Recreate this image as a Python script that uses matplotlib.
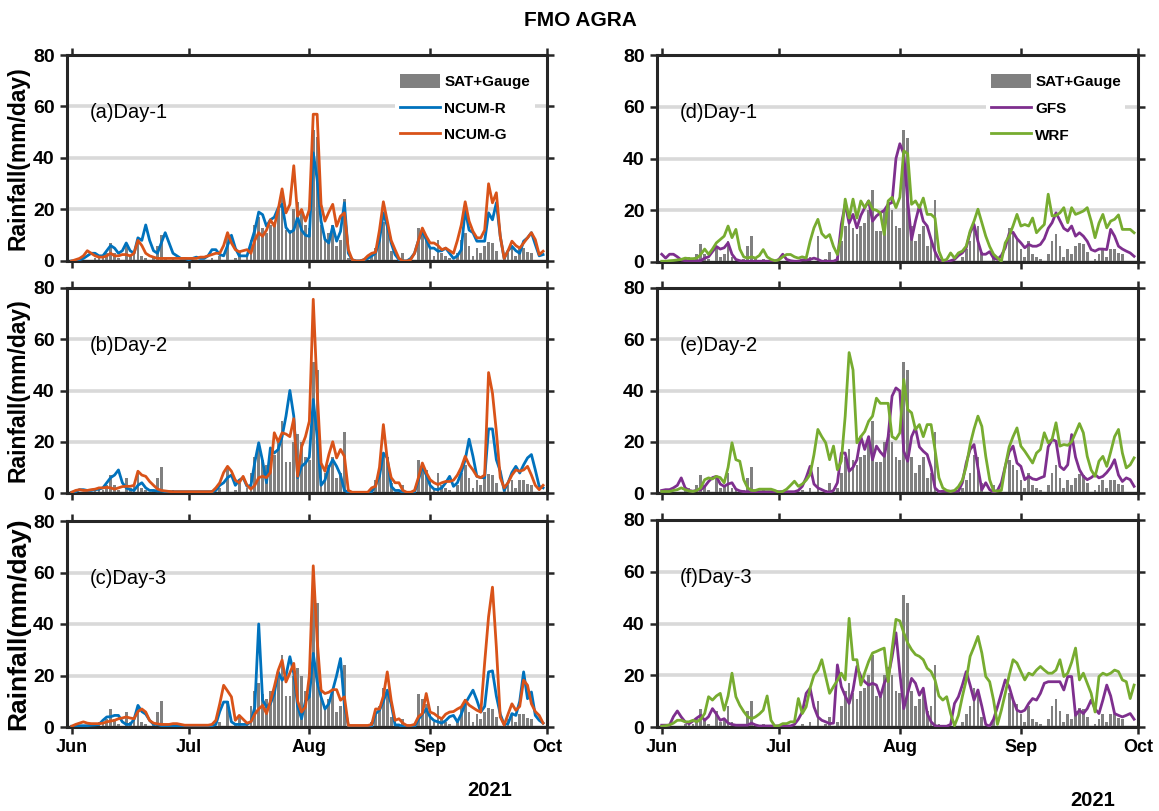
import matplotlib
matplotlib.use("Agg")
import matplotlib.pyplot as plt
import pandas as pd

# ---------------- data ----------------
dates = pd.date_range("2021-06-01", "2021-09-30", freq="D")
month_ticks = pd.to_datetime(["2021-06-01", "2021-07-01", "2021-08-01", "2021-09-01", "2021-10-01"])
month_labels = ["Jun", "Jul", "Aug", "Sep", "Oct"]
y_ticks = [0, 20, 40, 60, 80]

# observed daily rainfall (SAT+Gauge), mm/day
obs = [0, 0, 0, 0, 0, 0, 1, 2, 1, 3,
       7, 3, 1, 0, 6, 2, 3, 8, 2, 1,
       0, 1, 6, 10, 1, 0, 1, 0, 0, 0,
       0, 0, 0, 0, 0, 0, 1, 0, 2, 0,
       10, 0, 1, 4, 0, 2, 8, 14, 17, 13,
       11, 14, 15, 20, 28, 12, 12, 20, 23, 20,
       14, 13, 51, 48, 14, 8, 11, 14, 6, 8,
       24, 1, 0, 0, 0, 0, 0, 2, 5, 8,
       15, 14, 4, 0, 0, 3, 0, 0, 0, 13,
       11, 9, 5, 2, 8, 3, 2, 1, 0, 3,
       8, 11, 6, 2, 5, 3, 6, 7.5, 7, 4,
       0, 1, 3, 5, 2, 5, 5, 3.5, 3, 0, 0, 0]

ncum_r_day1 = [0, 0, 0.5, 1, 2, 3, 3, 2, 2, 4,
               6, 5, 3, 4, 7, 4, 3, 9, 8, 14,
               8, 4, 3, 7, 11, 7, 3, 2, 1, 1,
               0.5, 1, 1.5, 1, 1, 2, 4.4, 4.4, 2.5, 2,
               6, 10, 5, 2, 2, 2, 7, 12, 19, 18,
               13.5, 16, 17, 20.6, 22, 13, 11, 12, 17, 12,
               10, 9.6, 42, 31.7, 15.5, 8.4, 7, 13.5, 7.7, 11.5,
               22.6, 3, 0.5, 0, 0, 0.5, 1, 2, 3, 8,
               18.7, 13.5, 7, 2.5, 0.5, 0, 0, 1, 3, 8,
               11.5, 8.3, 5, 5, 3.8, 4, 5, 3, 1, 2,
               4.4, 20, 12, 11, 7.7, 7.7, 7.7, 18.7, 16, 22.6,
               9.6, 1, 4, 5.7, 4, 3, 7.7, 9, 11, 6.4, 2, 2.5]
ncum_g_day1 = [0, 0.5, 1, 2, 4, 3, 2, 1.5, 1.5, 2,
               3, 2, 2, 2.5, 2.5, 2, 3, 8, 6, 3,
               2, 1.5, 1, 1, 1, 1, 1, 1, 1, 1,
               1, 1, 1, 1.5, 1.5, 2, 2.5, 3, 3, 6,
               11, 7, 4.4, 3.6, 4, 4.4, 3, 8, 11, 9.6,
               12, 16, 13.5, 20, 28, 18.7, 22, 37, 17.4, 20,
               15.5, 20, 57, 57, 22, 15.5, 19, 22, 13.5, 17.4,
               18.7, 4.4, 0.5, 0, 0, 0.5, 2, 3, 3.4, 12,
               23, 15.5, 8, 4.4, 1, 0, 0, 0.5, 3, 8,
               12.8, 9.6, 7, 7, 6, 4.4, 5, 4, 3, 8,
               14, 23, 15.5, 11.5, 9, 9, 12, 30, 22.6, 26.5,
               9.6, 1, 4, 7.7, 6, 5, 7, 9, 11, 8.3, 2.5, 3.8]

ncum_r_day2 = [0.3, 0.5, 1.3, 1.3, 1, 1, 1.3, 1.5, 2, 4,
               6, 7, 9, 4, 2, 1.3, 1, 3, 4, 2,
               1, 1, 0.8, 0.8, 0.5, 0.5, 0.5, 0.5, 0.5, 0.5,
               0.5, 0.5, 0.5, 0.5, 0.5, 0.5, 0.5, 1, 3, 4,
               6, 7, 3, 5, 6, 2.6, 3, 12, 19.6, 12.4,
               4, 17.6, 15.6, 17, 22, 30, 40, 30, 6, 10.4,
               11.7, 14, 36.5, 22, 3, 5, 10, 13, 10.4, 7,
               1, 0.3, 0, 0, 0, 0, 0, 0.5, 3, 6.5,
               15.6, 13.7, 2.6, 1, 1, 0.3, 0, 0, 0.3, 5,
               10.4, 7, 3, 1.5, 1.3, 2, 4, 6.5, 2.6, 4,
               8, 13, 21, 14.3, 6.5, 6, 6, 25, 25, 13,
               8.5, 1, 4, 8, 10.4, 7.8, 11, 13.7, 15, 9, 2.6, 2]
ncum_g_day2 = [0.3, 1, 1.3, 1, 1, 1.3, 1.5, 2, 2, 2.2,
               2, 1.5, 2, 2.5, 2.6, 2.6, 3, 8.5, 7, 6.5,
               4.5, 3, 1.6, 1, 0.8, 0.6, 0.5, 0.5, 0.5, 0.5,
               0.5, 0.5, 0.5, 0.5, 0.5, 0.5, 0.5, 2, 4, 8,
               10.4, 8.5, 5, 4, 6.5, 3, 1.5, 3, 6, 6.5,
               6, 8, 23.5, 20, 23.5, 23, 22, 29, 6.5, 18,
               22, 28, 75.6, 40, 11.7, 8.5, 15, 20, 13.7, 17,
               14.3, 1, 0.3, 0.3, 0.3, 0.3, 0.3, 2, 2.6, 10,
               26.7, 13, 6, 4, 4, 1, 0.3, 0.3, 1, 6,
               11.7, 8, 5.2, 4, 3.3, 4, 4.5, 4.5, 5, 7,
               10, 14.3, 11, 9, 6.5, 6, 7, 47, 39, 24,
               6, 2, 4, 7, 9, 8.5, 9, 10.4, 7, 3, 1.3, 3]

ncum_r_day3 = [0.3, 0.3, 0.5, 0.5, 0.5, 0.7, 0.8, 1, 2.6, 3.9,
               4, 4.5, 4.5, 2, 1, 1, 3, 8.4, 6, 5,
               2.6, 1, 1, 0.5, 0.5, 0.5, 0.5, 0.5, 0.5, 0.5,
               0.5, 0.5, 0.5, 0.5, 0.5, 0.5, 0.5, 1, 6, 9.7,
               9.7, 2, 1, 1, 1, 1, 2, 7.8, 40, 10.4,
               7.8, 9, 13, 21.4, 18.2, 20, 27.3, 20.8, 8, 3.2,
               10, 11.7, 28.6, 17.5, 11.7, 7, 9, 14.3, 20, 26.6,
               8.4, 0.5, 0.3, 0.3, 0.3, 0.3, 0.3, 0.3, 5.2, 6.5,
               10, 14.3, 9, 0.8, 0.8, 0.1, 0.1, 0.1, 0.1, 3,
               5, 7, 3.9, 2.5, 2, 1.5, 2.5, 4, 4.5, 2,
               5, 9, 11.7, 14.3, 10.4, 5.8, 8, 21.4, 21.8, 12,
               5, 1, 1.3, 5.2, 4.5, 10, 21.4, 11, 13.6, 4.5, 2.6, 1.5]
ncum_g_day3 = [0.3, 1, 1.5, 2, 1.5, 1.3, 1.3, 1.3, 1.5, 2,
               2.3, 2.6, 3.2, 3.5, 3.9, 3.5, 3.2, 6, 7, 5.8,
               2.5, 1.5, 1.2, 1, 1, 1, 1.3, 1.3, 1, 0.7,
               0.7, 0.7, 0.7, 0.7, 0.7, 0.7, 1, 2.6, 9, 16.2,
               14, 11.7, 2.6, 4.5, 3, 1.5, 2, 5, 7, 8.4,
               5.2, 10, 15.6, 22, 26, 17.5, 21, 24.7, 10, 5.8,
               7.8, 20, 62.6, 33.8, 14.3, 13, 13.5, 14.5, 14.5, 10.4,
               11.7, 0.6, 0.6, 0.6, 0.6, 0.6, 0.6, 1, 7, 7,
               12, 21.4, 10.4, 2.6, 3.2, 1.5, 0.6, 0.6, 1, 4,
               5.2, 13, 5.8, 5.2, 4, 3.2, 5, 5.8, 6, 7,
               7.8, 10.4, 8.5, 7.5, 6.5, 5.8, 25, 42.8, 54.3, 31,
               3.9, 0.8, 5, 9, 6.5, 8, 18.2, 16.2, 9, 6, 4.5, 1.5]

gfs_day1 = [3, 1.5, 3, 3, 2, 0.8, 0.5, 0.5, 0.5, 0.5,
            0.5, 1.5, 2, 4, 6, 5, 5.5, 7.4, 3, 1,
            0.5, 0.3, 0.3, 0.3, 0.3, 0.3, 0.3, 0.3, 0.3, 0.3,
            1, 3, 1, 0.5, 0.3, 0.3, 0.8, 0.8, 1, 1.5,
            1, 0.3, 0.3, 0.3, 0.3, 1, 14.5, 22.3, 15, 18.4,
            13.2, 18, 21, 23.6, 15.8, 17.8, 19, 20, 22.3, 23,
            40, 45.7, 41.8, 23.6, 8.7, 15.8, 21.7, 15.8, 13.9, 8.7,
            4, 1, 0.3, 0, 0.5, 1, 2.5, 3.5, 5.5, 11.3,
            14.5, 8, 3, 3, 4, 1.5, 1, 2.5, 5.5, 11,
            11.5, 9, 7.4, 5.5, 6.8, 6.1, 6.1, 6.8, 9, 13,
            15.2, 19, 16, 13, 12, 13.9, 10, 11.3, 10, 8,
            4.8, 4.2, 5, 5, 4.8, 12.6, 10, 6.1, 5, 4.2, 3.5, 2.2]
wrf_day1 = [0.3, 0.3, 0.5, 0.6, 0.8, 1, 1.5, 1.3, 1.3, 1.5,
            2.9, 5, 3, 5, 7.4, 8.7, 10, 13.9, 9.4, 12.6,
            5, 2, 1.5, 2, 1.5, 2.5, 4.8, 2, 1, 0.5,
            0.8, 2, 2.9, 2.9, 2, 1.5, 2, 1.5, 8, 13.2,
            16.5, 11, 9.4, 10.6, 6, 2.9, 10, 24.3, 17, 24.3,
            17, 23.6, 21, 23.6, 20.4, 20, 19, 10.6, 23.6, 25,
            21, 25, 43, 41.8, 22.3, 23.6, 21, 24.7, 18.4, 18.4,
            17, 4.2, 0.5, 1, 3.5, 1.5, 3.5, 4.2, 6.1, 12,
            15.8, 20.4, 15.2, 10, 6, 3, 1.6, 0.3, 7.4, 10,
            14, 18.4, 13.9, 14.5, 13.9, 17, 11.3, 13, 14.5, 26.2,
            17.8, 18, 19, 21, 15.2, 21, 18.4, 19, 19.7, 21,
            15.8, 9.4, 15, 18.4, 13.2, 15.8, 16.5, 18.2, 12.6, 12.6, 12.6, 11.3]

gfs_day2 = [1, 1.3, 1.3, 2, 3, 5.9, 2, 1, 0.7, 1,
            1.3, 2.5, 4.5, 6, 6.5, 3.5, 2.6, 3.5, 4, 1.5,
            0.8, 0.5, 0.5, 0.5, 0.5, 0.5, 0.5, 0.5, 0.5, 0.5,
            0.5, 0.5, 0.5, 0.5, 0.5, 1, 2.6, 6, 10.4, 3.5,
            2, 1.3, 0.6, 0.3, 1, 4, 15.6, 15.6, 8.5, 10,
            13, 22, 17, 22, 13, 18.3, 16, 14.3, 22, 37.8,
            41, 39.8, 16.3, 12.4, 22, 25.4, 18, 16.3, 15, 10,
            2, 0.5, 0.7, 0.7, 0.7, 0.7, 0.7, 4, 11.7, 17,
            18.9, 9.8, 1.3, 4, 1.3, 0.3, 1, 4, 10.4, 16,
            18.3, 11.7, 10.4, 5.2, 6.5, 5.5, 5.2, 5.9, 6.5, 18,
            20.9, 20.2, 10.4, 9.1, 11, 22.8, 14, 9.1, 6.5, 5.2,
            6, 7.2, 5.9, 6.5, 8, 10, 13, 7, 4.5, 5.9, 5.2, 2.6]
wrf_day2 = [0.6, 0.6, 0.6, 1, 1.3, 2, 1.3, 0.8, 0.6, 1,
            2, 5.2, 5.9, 5.5, 6.5, 6, 4, 10, 19.6, 13,
            12.4, 5.2, 2, 1, 1, 1.5, 1.5, 1.5, 1.5, 1,
            0.3, 0.6, 1.5, 3, 4.6, 2.6, 3.5, 5, 7.2, 15,
            24.8, 22, 19.6, 13, 18.3, 9.1, 12.4, 30, 54.8, 48,
            19.6, 22, 24, 28, 30, 37, 35, 35, 35, 22,
            21, 23.5, 44.3, 32.6, 31.3, 24.8, 26.7, 22, 26.7, 26.7,
            17, 6, 2, 1, 0.6, 1, 2.5, 5, 10.4, 18.9,
            25, 30, 26, 14.3, 5.2, 0.8, 0.8, 1, 10.4, 18,
            22, 25.4, 18.3, 16.3, 14, 11.7, 15.6, 17, 23.5, 19.6,
            21, 27.4, 18.3, 18.9, 18.6, 20, 23.5, 27.1, 23.5, 14.3,
            9, 6.5, 12.4, 14.3, 10.4, 16, 22, 24.8, 15.6, 9.8, 11, 13.7]

gfs_day3 = [0.7, 0.7, 0.7, 4, 6.2, 3.9, 2, 1.3, 2.3, 3.5,
            4.5, 2.6, 4, 7.1, 5, 2.6, 3.2, 1.5, 1, 0.7,
            0.7, 0.7, 0.7, 1.5, 0.8, 0.4, 0.4, 0.4, 0.4, 0.4,
            0.4, 0.4, 0.4, 0.4, 1, 3, 5.8, 13, 15, 7.8,
            3.9, 2.6, 2, 1.3, 1.5, 24, 15.6, 12, 9.1, 14.3,
            23.4, 19.5, 17.5, 16.2, 16.9, 16.2, 11.7, 16.9, 19.5, 27,
            36.4, 20.8, 7.1, 13, 18.8, 16.9, 12.3, 15, 5.2, 2,
            0.5, 0.3, 0.3, 0.3, 1, 9.1, 11.7, 16.2, 21.4, 16.2,
            10.4, 14.3, 8, 1, 0.3, 3, 7.8, 13, 18.2, 15.6,
            10.4, 6.5, 5.8, 6.5, 9.1, 11, 10.4, 13, 16.9, 17.5,
            17.5, 17.5, 17.5, 14.3, 19.5, 19.5, 4.5, 6.5, 5.2, 7.1,
            10.4, 7, 5.2, 10.4, 16.2, 12, 5.2, 4.5, 3.9, 4.5, 5.2, 3]
wrf_day3 = [0.3, 0.5, 0.8, 1.5, 2.6, 2.6, 2, 2, 2.6, 2,
            3, 5.2, 11.7, 10.4, 12, 13, 6.5, 12, 20.8, 11.7,
            8.4, 6, 4, 3.2, 3.9, 5, 6.5, 12, 2.6, 0.3,
            0.5, 1.3, 1.3, 2, 2, 11, 5.2, 7.8, 15, 20,
            22, 26, 19.5, 13, 15.6, 18, 20.8, 18.2, 42, 26,
            26, 16.2, 21, 25.3, 28.6, 29.2, 29.9, 30.5, 17.5, 30,
            41.6, 41, 36.4, 32.5, 29.9, 28, 27.3, 26, 22.7, 21.4,
            18.2, 12, 10.4, 11.7, 5.2, 0.5, 4.5, 11.7, 18.2, 27.3,
            31, 35, 28.6, 19.5, 17.5, 10.4, 1, 6.5, 13, 20,
            26, 24.7, 21.4, 18.2, 20.8, 20.1, 22, 23.4, 22, 20.8,
            20.8, 22, 26, 19.5, 20.8, 25, 30.5, 18.2, 20.8, 16.9,
            13, 5.8, 19.5, 20.8, 20.1, 20.8, 22, 21.4, 18.2, 17.5, 11, 16.2]

# ---------------- style ----------------
plt.rcParams["font.family"] = ["Liberation Sans", "DejaVu Sans"]

C_BAR = "#808080"
C_NCUMR = "#0072BD"
C_NCUMG = "#D95319"
C_GFS = "#7E2F8E"
C_WRF = "#77AC30"
C_GRID = "#d9d9d9"
C_AX = "#262626"

W, H = 1159, 811
fig = plt.figure(figsize=(W / 100, H / 100), dpi=100)


def px_axes(left, top, right, bottom):
    return fig.add_axes([left / W, 1 - bottom / H, (right - left) / W, (bottom - top) / H])


panels = [
    # pixel box, panel label, model series, model names, colours, column, row
    ((67, 55, 547, 261), "(a)Day-1", (ncum_r_day1, ncum_g_day1), ("NCUM-R", "NCUM-G"), (C_NCUMR, C_NCUMG), 0, 0),
    ((67, 288, 547, 493), "(b)Day-2", (ncum_r_day2, ncum_g_day2), ("NCUM-R", "NCUM-G"), (C_NCUMR, C_NCUMG), 0, 1),
    ((67, 521, 547, 727), "(c)Day-3", (ncum_r_day3, ncum_g_day3), ("NCUM-R", "NCUM-G"), (C_NCUMR, C_NCUMG), 0, 2),
    ((657, 55, 1138, 262), "(d)Day-1", (gfs_day1, wrf_day1), ("GFS", "WRF"), (C_GFS, C_WRF), 1, 0),
    ((657, 288, 1138, 493), "(e)Day-2", (gfs_day2, wrf_day2), ("GFS", "WRF"), (C_GFS, C_WRF), 1, 1),
    ((657, 520, 1138, 727), "(f)Day-3", (gfs_day3, wrf_day3), ("GFS", "WRF"), (C_GFS, C_WRF), 1, 2),
]

for box, label, series, names, colors, col, row in panels:
    ax = px_axes(*box)
    ax.set_axisbelow(True)
    ax.yaxis.grid(True, color=C_GRID, linewidth=2.6)
    bars = ax.bar(dates, obs, width=0.7, color=C_BAR, edgecolor="none", zorder=2, label="SAT+Gauge")
    handles = [bars]
    for vals, name, c in zip(series, names, colors):
        (ln,) = ax.plot(dates, vals, color=c, linewidth=2.0, zorder=3, label=name)
        handles.append(ln)

    ax.set_xlim(pd.Timestamp("2021-05-30 19:00"), pd.Timestamp("2021-10-01"))
    ax.set_ylim(0, 80)
    ax.set_yticks(y_ticks)
    ax.set_xticks(month_ticks)
    ax.set_yticklabels([str(v) for v in y_ticks], fontsize=14, fontweight="bold")
    if row == 2:
        ax.set_xticklabels(month_labels, fontsize=13, fontweight="bold")
    else:
        ax.set_xticklabels([])
    ax.tick_params(direction="out", length=5, width=1.8, color=C_AX,
                   top=True, right=True, labeltop=False, labelright=False, pad=4)
    for s in ax.spines.values():
        s.set_linewidth(2.2)
        s.set_color(C_AX)

    ax.text(0.048, 0.72, label, transform=ax.transAxes, fontsize=14.5, va="center", ha="left")

    if row == 0:
        ax.legend(handles=handles, loc="upper right", bbox_to_anchor=(0.974, 0.93),
                  frameon=True, facecolor="white", edgecolor="none", framealpha=1,
                  prop={"weight": "bold", "size": 11},
                  handlelength=2.6, handleheight=1.0,
                  labelspacing=0.76, borderpad=0.3, handletextpad=0.3, borderaxespad=0.0)

    if col == 0:
        cy = (box[1] + box[3]) / 2
        fig.text(18 / W, 1 - cy / H, "Rainfall(mm/day)", rotation=90, ha="center", va="center",
                 fontsize=16.5 if row < 2 else 19, fontweight="bold")

fig.text(580 / W, 1 - 20 / H, "FMO AGRA", ha="center", va="center", fontsize=15, fontweight="bold")
fig.text(490 / W, 1 - 790 / H, "2021", ha="center", va="center", fontsize=14.5, fontweight="bold")
fig.text(1093 / W, 1 - 800 / H, "2021", ha="center", va="center", fontsize=14.5, fontweight="bold")

fig.savefig("out.png", dpi=100)
